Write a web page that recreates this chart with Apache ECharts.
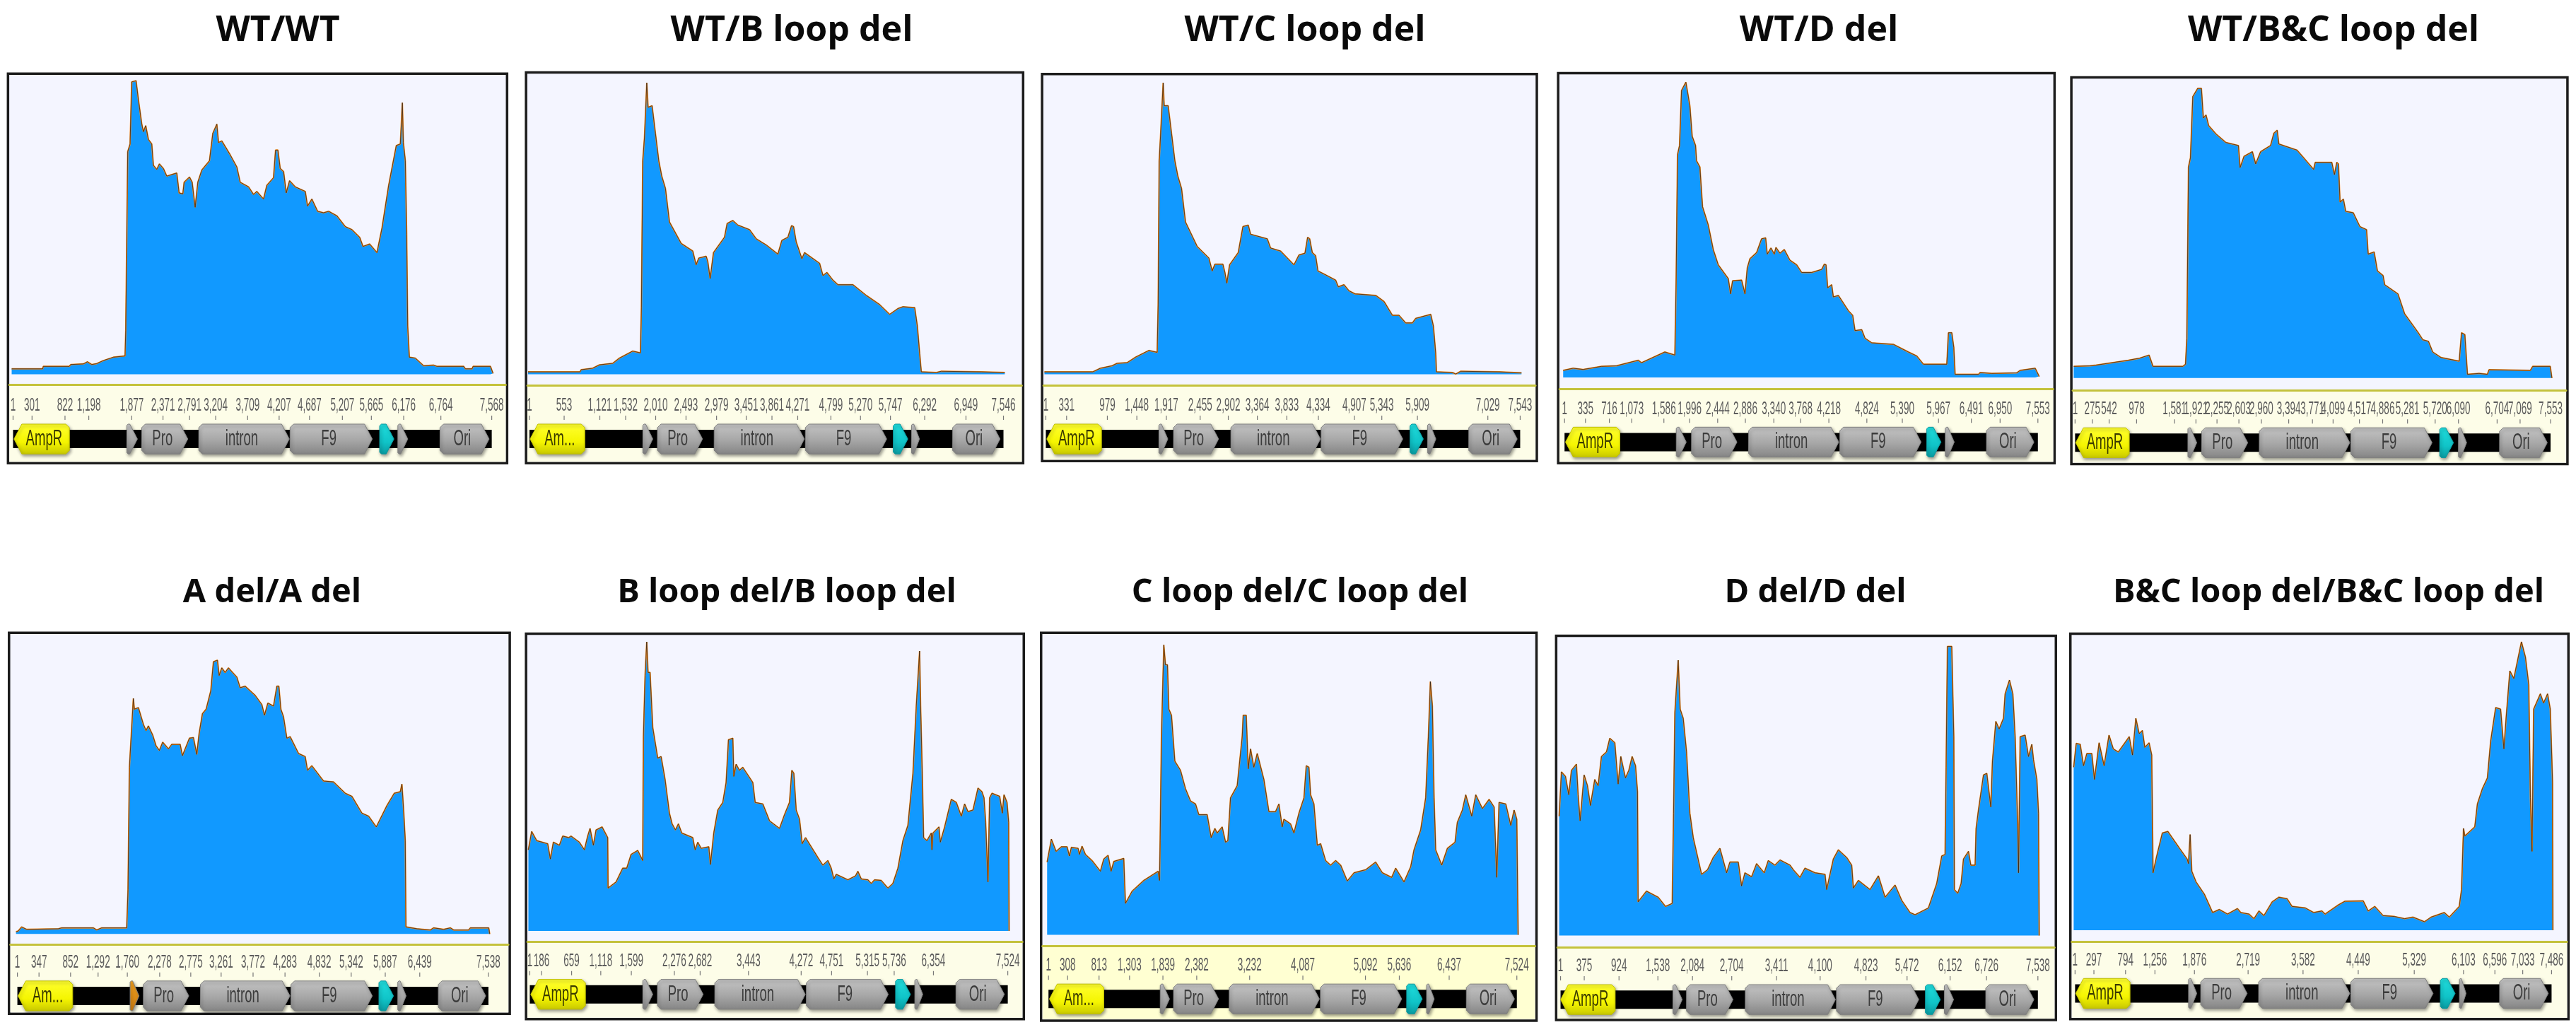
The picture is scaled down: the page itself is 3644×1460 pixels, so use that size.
<!DOCTYPE html>
<html><head><meta charset="utf-8">
<style>html,body{margin:0;padding:0;background:#fff}#c{width:3644px;height:1460px}</style>
<script src="https://cdn.jsdelivr.net/npm/echarts@6/dist/echarts.min.js"></script>
</head><body><div id="c"></div>
<script>
// ---------- DATA: [position (bp), coverage] ----------
const covWtWt=[[1,1.8],[488,1.8],[498,2.6],[907,2.6],[928,3.2],[1128,3.4],[1191,4.1],[1259,3.2],[1337,3.5],[1442,4.5],[1600,5.6],[1783,6],[1794,14.3],[1825,72.8],[1862,75.3],[1888,95.6],[1956,96],[1993,89.8],[2046,81.8],[2072,79.3],[2108,81.3],[2150,76.8],[2203,75.3],[2229,68.3],[2282,67],[2323,68.8],[2386,67.3],[2439,64.8],[2596,65.8],[2633,59.3],[2691,59],[2712,62.8],[2796,64.5],[2838,62.8],[2885,54.6],[2927,62.8],[2990,66.8],[3110,69.8],[3163,78.8],[3226,81.8],[3252,75.8],[3304,76.3],[3435,71.8],[3540,67.8],[3593,62.8],[3724,61.3],[3803,58.8],[3855,59.8],[3960,57.3],[4012,61.8],[4117,64.3],[4149,73.3],[4186,73.3],[4222,67.3],[4275,66.3],[4317,59.3],[4369,63.3],[4458,61.3],[4616,59.8],[4652,55],[4720,57.3],[4810,53.3],[4904,52.8],[4983,53.3],[5114,51.8],[5245,48.3],[5350,47.3],[5471,44.8],[5523,41.8],[5628,42.6],[5743,39.8],[5822,47.8],[5927,61.8],[6047,74.8],[6110,75.3],[6142,88.8],[6158,75.8],[6189,69.8],[6210,45.8],[6226,15.8],[6252,5.6],[6346,5.3],[6477,2.8],[6635,3],[6687,2.6],[7107,2.6],[7133,1.8],[7238,1.8],[7254,2.6],[7527,2.6],[7568,.3]];
const covWtB=[[1,.8],[824,.8],[840,1.5],[1024,2],[1130,3.1],[1341,3.6],[1447,5.3],[1658,7.6],[1779,7],[1795,21.8],[1816,69.8],[1843,77.3],[1880,95.3],[1901,87.3],[1964,87.8],[2017,78.8],[2070,69.8],[2117,64.8],[2175,60.8],[2239,49.8],[2424,42.8],[2608,40.3],[2661,35.8],[2703,38],[2820,38.6],[2846,36.8],[2883,31.3],[2936,39.8],[3110,44.8],[3152,49.3],[3242,50.3],[3321,48.8],[3506,47.3],[3612,44.3],[3770,42.3],[3955,39.3],[4018,43.8],[4113,44.8],[4171,48.6],[4203,48.3],[4245,43.3],[4335,37.8],[4377,39.8],[4615,36.3],[4668,32.3],[4731,33.3],[4826,30.8],[4905,29.3],[5143,29.3],[5354,25.8],[5565,22.8],[5724,19.6],[5855,21.5],[5935,22.1],[6120,21.8],[6162,15.8],[6199,6.8],[6225,.8],[6463,.6],[6542,1],[7176,.8],[7546,.6]];
const covWtC=[[1,.8],[765,.8],[886,2],[1071,2.8],[1150,3.6],[1308,3.8],[1440,5.6],[1651,7.8],[1783,7.2],[1799,22.8],[1815,69.8],[1836,77.8],[1878,95.3],[1894,87.8],[1957,87.8],[2010,78.8],[2063,69.8],[2110,64.8],[2168,60.8],[2231,49.8],[2416,41.8],[2601,38],[2653,33.8],[2696,36],[2822,36],[2854,33.3],[2885,29.8],[2928,35.8],[3065,39.8],[3139,48.3],[3223,48.8],[3260,45.8],[3524,44.3],[3576,41.3],[3735,40.3],[3946,35.8],[4025,39],[4120,39.6],[4162,44.8],[4194,44.3],[4236,39.8],[4288,38.8],[4325,33.8],[4420,32.8],[4605,30.8],[4647,28.6],[4737,29.3],[4816,27.3],[4911,26.3],[5238,25.8],[5370,23.8],[5502,19.3],[5607,19.3],[5713,16.8],[5818,16.8],[5871,18.3],[6108,19.6],[6150,15.8],[6187,6.8],[6198,.8],[6451,.6],[6504,.1],[6583,1],[7190,.8],[7543,.5]];
const covWtD=[[1,2.3],[159,3],[318,2.6],[609,3.6],[847,3.8],[1191,5.6],[1244,4.8],[1614,8.3],[1773,7.3],[1794,32.8],[1815,72.8],[1847,75.8],[1879,93.8],[1948,96.5],[2011,88.8],[2048,78.8],[2101,75.8],[2117,70.8],[2170,68.8],[2212,55.8],[2303,49.8],[2382,41.8],[2461,36.8],[2620,32.3],[2657,27.3],[2689,31.6],[2832,31.8],[2885,27.3],[2922,35.8],[2964,38.8],[3070,40.8],[3149,45.3],[3213,45.6],[3239,40.3],[3298,42.3],[3350,40.3],[3377,42.5],[3440,40.6],[3509,41.8],[3599,38.3],[3705,36.8],[3785,34.3],[3943,34.3],[4102,35.3],[4144,37],[4171,36.8],[4197,29.3],[4261,30.3],[4287,26.3],[4367,26.8],[4526,21.8],[4594,20.3],[4631,15.3],[4737,15.6],[4790,12.8],[4896,11.3],[5240,10.8],[5478,8.3],[5611,7],[5717,4.3],[6087,4.3],[6113,14.6],[6166,14.6],[6198,9.8],[6219,1],[6590,1],[6616,1.6],[6802,1.3],[7198,1.5],[7251,2.3],[7489,3],[7553,.3]];
const covWtBC=[[1,3.8],[261,4],[355,4.2],[601,5],[862,5.8],[1045,6.5],[1192,7.5],[1254,3.8],[1725,3.8],[1767,4.5],[1788,13],[1814,69],[1845,72],[1882,92],[1960,94.7],[2018,94.7],[2049,85],[2091,86],[2133,82.5],[2248,79.8],[2404,77],[2603,76],[2629,68.8],[2692,72.5],[2823,74],[2875,70],[2953,74],[3110,76],[3162,80],[3215,81],[3241,76.5],[3528,74.5],[3633,72],[3790,68.2],[3816,70.5],[4077,70.5],[4119,66.5],[4156,70.5],[4182,70],[4208,57.5],[4260,58.5],[4297,54.5],[4417,54],[4521,49.5],[4626,48.5],[4652,40.5],[4746,41.2],[4798,35],[4887,33.5],[4913,30.5],[5122,27.5],[5227,21],[5436,15],[5515,12.5],[5603,12],[5671,8.5],[5802,6.7],[6089,5.5],[6126,14.8],[6178,14.2],[6220,1.2],[6403,1.5],[6534,1.2],[6560,2.7],[7213,2.5],[7250,3.8],[7527,3.8],[7553,0]];
const covADel=[[1,.7],[37,1],[90,2.3],[170,1.5],[674,1.7],[727,2],[860,2],[1231,2],[1285,1.3],[1364,2],[1762,2],[1783,14.5],[1805,54.5],[1826,62],[1868,77],[1884,73.5],[1948,74],[2028,68.5],[2070,66.5],[2107,68],[2176,65],[2229,61.5],[2282,60],[2335,62.7],[2426,60.5],[2479,62],[2612,62],[2649,58.3],[2760,64],[2824,64.2],[2877,58.7],[2914,65.5],[2967,72],[3026,73.5],[3100,79.5],[3142,89],[3206,89.5],[3233,84.5],[3275,87],[3328,85.5],[3381,87],[3514,84],[3567,80.5],[3647,81],[3806,78],[3912,75],[3954,71.5],[4008,75.5],[4098,74.5],[4151,81],[4183,81],[4215,73.5],[4257,71],[4310,64],[4363,64.5],[4496,59],[4602,58],[4639,53.5],[4708,55],[4894,50],[5053,49.7],[5239,46],[5345,45],[5504,39.5],[5611,38.5],[5733,35],[5903,42],[6019,46],[6115,46.5],[6141,49],[6168,40.5],[6194,30.5],[6205,2.3],[6380,1.7],[6593,1.3],[6646,2],[6805,1.5],[6911,2],[6964,1.3],[7203,1.3],[7230,2],[7522,2],[7538,0]];
const covBB=[[1,26.5],[52,32.5],[131,29.5],[303,28.5],[345,23.5],[392,29],[486,28],[538,31],[632,30.5],[668,31],[799,29],[877,26.5],[929,31],[966,33.5],[1018,28],[1060,33],[1154,34],[1242,30.5],[1248,14],[1373,16],[1477,20.5],[1540,20.5],[1608,25],[1712,26.3],[1790,23],[1801,63.5],[1827,83.5],[1853,94.5],[1874,84.5],[1905,84.5],[1947,66.5],[2025,56.5],[2078,57],[2140,49.5],[2208,38.5],[2250,35],[2302,33],[2349,35],[2401,32],[2573,30.5],[2610,26.5],[2652,29],[2704,27],[2824,27.5],[2850,21.7],[2902,32],[2965,39.5],[3043,42],[3095,48.5],[3132,62.5],[3200,63],[3216,50.5],[3252,54.5],[3304,52.5],[3356,53.5],[3513,48.5],[3550,42],[3670,41.5],[3774,36],[3931,33.5],[4009,38],[4087,42],[4124,52.5],[4155,51.5],[4192,39.5],[4244,36.5],[4286,28.5],[4338,30.5],[4531,24],[4609,21.5],[4688,23],[4740,20.5],[4782,17],[4818,18.5],[5001,16.7],[5121,18],[5157,19.5],[5210,17],[5314,16.7],[5366,15.5],[5418,16.7],[5523,16.5],[5627,14],[5705,15.5],[5784,20.5],[5862,29.5],[5940,34.5],[6019,51.5],[6071,73.5],[6123,91.5],[6139,73.5],[6165,51.5],[6186,30.5],[6238,29.5],[6306,32],[6316,26.5],[6332,32],[6426,34],[6447,29],[6515,34],[6619,43],[6697,42],[6776,37.5],[6828,41.5],[6880,39],[6958,39.5],[7037,46.7],[7099,45.5],[7131,43.5],[7157,35.5],[7193,16],[7219,43.5],[7256,45],[7376,44],[7418,38.5],[7444,44.5],[7491,42],[7517,35.5],[7524,0]];
const covCC=[[1,23.8],[69,31.3],[144,27.3],[229,28.8],[320,28.8],[357,25.8],[389,28.6],[496,28.3],[517,26.3],[559,29],[613,26.3],[719,24.3],[852,20.8],[906,24.8],[975,26],[1023,20.8],[1066,24],[1225,25],[1252,10.3],[1359,14.3],[1545,17.8],[1774,20.8],[1796,17.8],[1806,30.8],[1827,64.8],[1865,94.8],[1891,88.3],[1923,88.3],[1945,73.8],[1987,71.8],[2041,56.8],[2131,53.8],[2211,47.8],[2291,43.8],[2371,42.8],[2424,39.3],[2557,39.3],[2621,31.8],[2680,34.8],[2717,33.3],[2797,35.3],[2851,30.3],[2888,30.8],[2930,44.8],[3037,48.8],[3117,64.8],[3133,71.8],[3181,71.8],[3213,54.3],[3250,60.8],[3303,54.8],[3357,59.3],[3463,50.8],[3543,40.3],[3650,40.3],[3703,42.8],[3756,35.3],[3783,37.8],[3889,36.3],[3943,33.3],[4023,39.8],[4103,44.8],[4140,55.3],[4182,54.8],[4209,45.8],[4262,42.8],[4316,29.3],[4369,29.8],[4449,24.3],[4529,22.8],[4609,24.3],[4689,22.8],[4795,17.6],[4902,20.3],[5088,21.3],[5248,23.8],[5355,20.3],[5504,18.8],[5568,21.8],[5701,17.3],[5808,22.3],[5861,27.8],[5967,34.3],[6047,44.8],[6090,64.8],[6122,82.8],[6154,74.8],[6181,44.8],[6207,27.8],[6303,22.8],[6394,28.3],[6516,30.3],[6553,36.8],[6633,40.8],[6687,45.8],[6783,38.8],[6847,45.8],[6953,41.3],[7060,44.3],[7140,41.8],[7182,18.8],[7219,43.3],[7326,42.8],[7406,35.8],[7459,40.8],[7502,37.8],[7524,0]];
const covDD=[[1,39],[37,53.5],[100,52],[152,46],[194,54],[272,56],[299,46],[330,37.5],[393,52.5],[445,49],[492,42.5],[560,51],[613,49],[665,58.5],[744,60],[796,64.5],[875,63],[927,49.5],[969,58.5],[1042,51.5],[1095,54],[1147,58.5],[1200,55.5],[1231,47],[1241,11],[1372,14.5],[1556,12.5],[1671,9.5],[1776,10.5],[1797,40],[1818,73],[1870,90],[1901,74],[1949,71],[2001,60],[2053,40],[2106,32],[2237,20],[2331,21.5],[2420,25.5],[2525,28.5],[2630,20.5],[2682,24],[2813,24],[2865,16.2],[2918,20.5],[3022,19.2],[3101,23.5],[3221,20.5],[3284,24.5],[3389,23],[3468,24.7],[3625,23],[3677,21.5],[3782,19],[3860,22],[4018,20.5],[4175,20],[4201,15],[4306,25],[4384,28],[4515,25.5],[4594,23],[4620,15.5],[4699,18],[4882,15],[5013,19.5],[5118,12.5],[5275,16.5],[5379,11.5],[5510,7.5],[5589,6.8],[5798,9],[5929,17],[6008,26],[6060,26.5],[6076,55],[6097,94.5],[6165,94.5],[6197,65],[6207,15],[6259,13.8],[6312,17],[6349,25],[6427,27.5],[6464,23],[6532,23],[6547,35],[6584,41],[6663,52.5],[6715,53],[6778,42],[6804,57],[6857,70],[6909,67.5],[6977,71],[7003,79],[7071,83.5],[7124,79],[7160,65],[7202,35],[7213,20.5],[7239,65],[7317,65.5],[7370,58.5],[7422,62.5],[7448,57.5],[7501,51],[7527,40],[7538,0]];
const covBCBC=[[1,53.3],[41,61.1],[103,60.8],[155,53.8],[207,57.8],[284,57.8],[326,49.3],[398,61.3],[476,53.8],[553,63.8],[620,59.3],[698,58.3],[801,61.3],[869,63.3],[920,57.3],[972,69.3],[1024,64.3],[1075,65.3],[1112,59.8],[1179,61.3],[1220,57.3],[1241,18.8],[1293,23.8],[1386,31.8],[1473,32.3],[1654,26.8],[1773,23.3],[1794,21.8],[1820,31.3],[1846,19.3],[1913,15.8],[2042,11.8],[2171,5.8],[2275,6.8],[2404,5.3],[2559,7.1],[2611,5.8],[2740,5.3],[2818,3.8],[2895,6.3],[2973,4.8],[3102,9.3],[3205,10.8],[3335,10.3],[3412,7.8],[3619,7.3],[3748,5.8],[3878,6.3],[3929,5.3],[4136,8.3],[4239,9.5],[4524,9.6],[4601,6.3],[4705,7.8],[4834,4.8],[5015,4.5],[5170,3.8],[5299,4.3],[5480,2.8],[5584,4.3],[5790,5.8],[5868,4.3],[6023,7.8],[6059,13.3],[6090,33.3],[6111,30.8],[6266,33.8],[6307,41.3],[6385,46.3],[6463,49.8],[6514,61.8],[6592,72.8],[6669,72.3],[6721,59.3],[6757,69.8],[6814,84.8],[6876,82.3],[6995,94.3],[7057,89.3],[7109,80.3],[7135,43.3],[7160,25.8],[7186,72.3],[7290,77.3],[7341,74.3],[7403,77.3],[7445,72.3],[7481,48.3],[7486,0]];

const ticksWtWt=[1,301,822,1198,1877,2371,2791,3204,3709,4207,4687,5207,5665,6176,6764,7568];
const ticksWtB=[1,553,1121,1532,2010,2493,2979,3451,3861,4271,4799,5270,5747,6292,6949,7546];
const ticksWtC=[1,331,979,1448,1917,2455,2902,3364,3833,4334,4907,5343,5909,7029,7543];
const ticksWtD=[1,335,716,1073,1586,1996,2444,2886,3340,3768,4218,4824,5390,5967,6491,6950,7553];
const ticksWtBC=[1,275,542,978,1581,1921,2255,2603,2960,3394,3771,4099,4517,4886,5281,5720,6090,6704,7069,7553];
const ticksADel=[1,347,852,1292,1760,2278,2775,3261,3772,4283,4832,5342,5887,6439,7538];
const ticksBB=[1,186,659,1118,1599,2276,2682,3443,4272,4751,5315,5736,6354,7524];
const ticksCC=[1,308,813,1303,1839,2382,3232,4087,5092,5636,6437,7524];
const ticksDD=[1,375,924,1538,2084,2704,3411,4100,4823,5472,6152,6726,7538];
const ticksBCBC=[1,297,794,1256,1876,2719,3582,4449,5329,6103,6596,7033,7486];

// [start,end] in bp of: AmpR, small, Pro, intron, F9, cyan, small, Ori
const featWtWt=[[16,892],[1799,1967],[2035,2764],[2937,4369],[4380,5680],[5796,6022],[6084,6241],[6750,7527]];
const featWtB=[[11,882],[1806,1964],[2038,2756],[2941,4377],[4393,5687],[5792,6024],[6083,6209],[6737,7492]];
const featWtC=[[16,886],[1799,1941],[2031,2748],[2943,4368],[4378,5676],[5792,6003],[6072,6203],[6726,7496]];
const featWtD=[[16,884],[1784,1943],[2027,2752],[2938,4377],[4393,5690],[5780,6008],[6076,6219],[6733,7490]];
const featWtBC=[[11,862],[1793,1934],[2012,2744],[2927,4365],[4380,5671],[5792,6011],[6090,6220],[6743,7501]];
const featADel=[[11,886],[1805,1948],[2017,2744],[2930,4363],[4379,5680],[5786,6019],[6088,6221],[6736,7495]];
const featBB=[[16,877],[1780,1937],[2010,2730],[2913,4338],[4354,5643],[5758,5993],[6061,6186],[6708,7470]];
const featCC=[[16,890],[1796,1945],[2009,2733],[2904,4353],[4369,5675],[5754,6005],[6074,6197],[6713,7486]];
const featDD=[[1,864],[1776,1922],[1990,2724],[2918,4342],[4358,5657],[5762,5998],[6061,6207],[6715,7475]];
const featBCBC=[[11,864],[1784,1913],[1975,2704],[2885,4317],[4332,5625],[5739,5971],[6039,6143],[6670,7435]];

const titles=['WT/WT','WT/B loop del','WT/C loop del','WT/D del','WT/B&C loop del','A del/A del','B loop del/B loop del','C loop del/C loop del','D del/D del','B&C loop del/B&C loop del'];
const ampLabels=['AmpR','Am...','AmpR','AmpR','AmpR','Am...','AmpR','Am...','AmpR','AmpR'];
const featLabels=[null,'','Pro','intron','F9','','','Ori'];
const covs=[covWtWt,covWtB,covWtC,covWtD,covWtBC,covADel,covBB,covCC,covDD,covBCBC];
const ticks=[ticksWtWt,ticksWtB,ticksWtC,ticksWtD,ticksWtBC,ticksADel,ticksBB,ticksCC,ticksDD,ticksBCBC];
const feats=[featWtWt,featWtB,featWtC,featWtD,featWtBC,featADel,featBB,featCC,featDD,featBCBC];

// ---------- LAYOUT ----------
const SY=2.3;
const layout=[
 {ox:0,oy:0,sx:2.119,L:24,R:1520,T:240,B:1507,base:1218,olive:1252,x0:35,x1:1478,st:1380,cx:388},
 {ox:730,oy:0,sx:2.119,L:30,R:1520,T:236,B:1507,base:1218,olive:1253,x0:36,x1:1465,st:1380,cx:1115},
 {ox:1460,oy:0,sx:2.119,L:30,R:1513,T:241,B:1500,base:1218,olive:1253,x0:37,x1:1467,st:1380,cx:1841},
 {ox:2190,oy:0,sx:2.119,L:30,R:1518,T:238,B:1507,base:1228,olive:1265,x0:45,x1:1472,st:1390,cx:2568},
 {ox:2910,oy:0,sx:2.136,L:43,R:1542,T:252,B:1510,base:1230,olive:1270,x0:50,x1:1495,st:1392,cx:3296},
 {ox:0,oy:780,sx:2.119,L:27,R:1528,T:265,B:1505,base:1245,olive:1280,x0:48,x1:1468,st:1398,cx:380},
 {ox:730,oy:780,sx:2.119,L:30,R:1522,T:268,B:1522,base:1235,olive:1270,x0:37,x1:1478,st:1393,cx:1108},
 {ox:1460,oy:780,sx:2.119,L:27,R:1512,T:265,B:1527,base:1248,olive:1283,x0:45,x1:1457,st:1408,cx:1834,cream:'#ffffd2'},
 {ox:2190,oy:780,sx:2.119,L:24,R:1522,T:275,B:1525,base:1250,olive:1288,x0:33,x1:1472,st:1410,cx:2563},
 {ox:2910,oy:780,sx:2.136,L:40,R:1545,T:268,B:1522,base:1233,olive:1270,x0:50,x1:1498,st:1390,cx:3289}
];
const G=echarts.graphic.LinearGradient;
const fills={
 gray:()=>new G(0,0,0,1,[{offset:0,color:'#c4c4c4'},{offset:.55,color:'#a6a6a6'},{offset:1,color:'#858585'}]),
 yellow:()=>new G(0,0,0,1,[{offset:0,color:'#ffff30'},{offset:.6,color:'#f5f500'},{offset:1,color:'#c8c800'}]),
 cyan:()=>new G(0,0,0,1,[{offset:0,color:'#20dcdc'},{offset:.6,color:'#10c4c8'},{offset:1,color:'#0a9aa0'}]),
 orange:()=>new G(0,0,0,1,[{offset:0,color:'#f0a020'},{offset:1,color:'#c87a10'}])
};
const grids=[],xAxes=[],yAxes=[],series=[],title=[];
layout.forEach((l,i)=>{
  const px=z=>l.ox+z/l.sx, py=z=>l.oy+z/SY;
  const end=ticks[i][ticks[i].length-1];
  const bpp=(end-1)/(l.x1-l.x0);
  const xMin=1-(l.x0-l.L)*bpp, xMax=end+(l.R-l.x1)*bpp;
  const left=px(l.L), width=px(l.R)-px(l.L), top=py(l.T), bottom=py(l.B);
  const gi=grids.length;
  title.push({text:titles[i],left:l.cx,top:l.oy+(i<5?39:54),textAlign:'center',textVerticalAlign:'middle',
    textStyle:{fontFamily:'"Open Sans"',fontWeight:700,fontSize:i<5?50:47,color:'#0a0a0a'}});
  grids.push({left,top,width,height:bottom-top,show:true,backgroundColor:'#f4f5ff',borderColor:'#1c1c1c',borderWidth:3.5,containLabel:false});
  grids.push({left,top:top+2,width,height:py(l.base)-top-2,containLabel:false});
  grids.push({left:left+2,top:py(l.olive),width:width-4,height:bottom-py(l.olive)-2,show:true,backgroundColor:l.cream||'#fdfde8',borderWidth:0,containLabel:false});
  const yMax=(l.base-l.T)/10;
  const plotAx=xAxes.length, mapAx=plotAx+1;
  xAxes.push({type:'value',gridIndex:gi+1,min:xMin,max:xMax,show:false});
  xAxes.push({type:'value',gridIndex:gi+2,min:xMin,max:xMax,position:'top',axisLine:{show:true,onZero:false,lineStyle:{color:'#c4c23c',width:3}},axisTick:{show:false},axisLabel:{show:false},splitLine:{show:false}});
  yAxes.push({type:'value',gridIndex:gi+1,min:0,max:yMax,show:false});
  yAxes.push({type:'value',gridIndex:gi+2,min:0,max:1,show:false});
  // coverage
  series.push({type:'line',xAxisIndex:plotAx,yAxisIndex:plotAx,data:covs[i],showSymbol:false,animation:false,silent:true,
    lineStyle:{color:'#f58a1f',width:2},areaStyle:{color:'#1199ff',opacity:1},z:2});
  series.push({type:'line',xAxisIndex:plotAx,yAxisIndex:plotAx,data:covs[i],showSymbol:false,animation:false,silent:true,
    lineStyle:{color:'#1a1a1a',width:1,opacity:.7},z:3});
  const shapeTop=py(l.st), H=97/SY, mid=shapeTop+H/2;
  // tick marks and labels
  series.push({type:'custom',xAxisIndex:mapAx,yAxisIndex:mapAx,clip:true,silent:true,animation:false,z:3,
    data:ticks[i].map(v=>[v]),
    renderItem:(p,api)=>{
      const v=api.value(0), x=api.coord([v,0])[0];
      return {type:'group',children:[
        {type:'line',shape:{x1:x,y1:shapeTop-12,x2:x,y2:shapeTop-6},style:{stroke:'#777',lineWidth:1.2}},
        {type:'text',x,y:shapeTop-26,scaleX:.52,style:{text:v.toLocaleString('en-US'),textAlign:'center',textVerticalAlign:'middle',font:'26px "Liberation Sans"',fill:'#5c5c5c'}}
      ]};
    }});
  // backbone
  series.push({type:'custom',xAxisIndex:mapAx,yAxisIndex:mapAx,clip:false,silent:true,animation:false,z:3,
    data:[[1,end]],
    renderItem:(p,api)=>{
      const a=api.coord([api.value(0),0])[0], b=api.coord([api.value(1),0])[0];
      return {type:'rect',shape:{x:a,y:mid-13,width:b-a,height:26},style:{fill:'#000'}};
    }});
  // features
  series.push({type:'custom',xAxisIndex:mapAx,yAxisIndex:mapAx,clip:false,silent:true,animation:false,z:4,
    data:feats[i],
    renderItem:(p,api)=>{
      const k=p.dataIndex, a=api.coord([api.value(0),0])[0], b=api.coord([api.value(1),0])[0];
      const w=b-a, c=Math.min(5,w*.12), h=Math.min(11,w*.72), t=shapeTop, B=shapeTop+H;
      const kind=k===0?'yellow':k===5?'cyan':(k===1&&i===5)?'orange':'gray';
      const pts=k===0
        ?[[b-c,t],[a+h,t],[a,mid],[a+h,B],[b-c,B],[b,B-c],[b,t+c]]
        :[[a+c,t],[b-h,t],[b,mid],[b-h,B],[a+c,B],[a,B-c],[a,t+c]];
      const label=k===0?ampLabels[i]:featLabels[k];
      const children=[{type:'polygon',shape:{points:pts},style:{fill:fills[kind](),stroke:k===0?'#c0c000':k===5?'#0a9aa0':'#808080',lineWidth:1,shadowBlur:4,shadowOffsetX:1.5,shadowOffsetY:2.5,shadowColor:'rgba(0,0,0,.4)'}}];
      if(label){
        const cx=k===0?(a+h*.6+b)/2:(a+b-h*.6)/2;
        children.push({type:'text',x:cx,y:mid,scaleX:.58,style:{text:label,textAlign:'center',textVerticalAlign:'middle',font:'32px "Liberation Sans"',fill:k===0?'#3a3a00':'#3c3c3c'}});
      }
      return {type:'group',children};
    }});
});
const chart=echarts.init(document.getElementById('c'),null,{renderer:'canvas'});
chart.setOption({animation:false,backgroundColor:'#ffffff',title,grid:grids,xAxis:xAxes,yAxis:yAxes,series});
</script></body></html>
